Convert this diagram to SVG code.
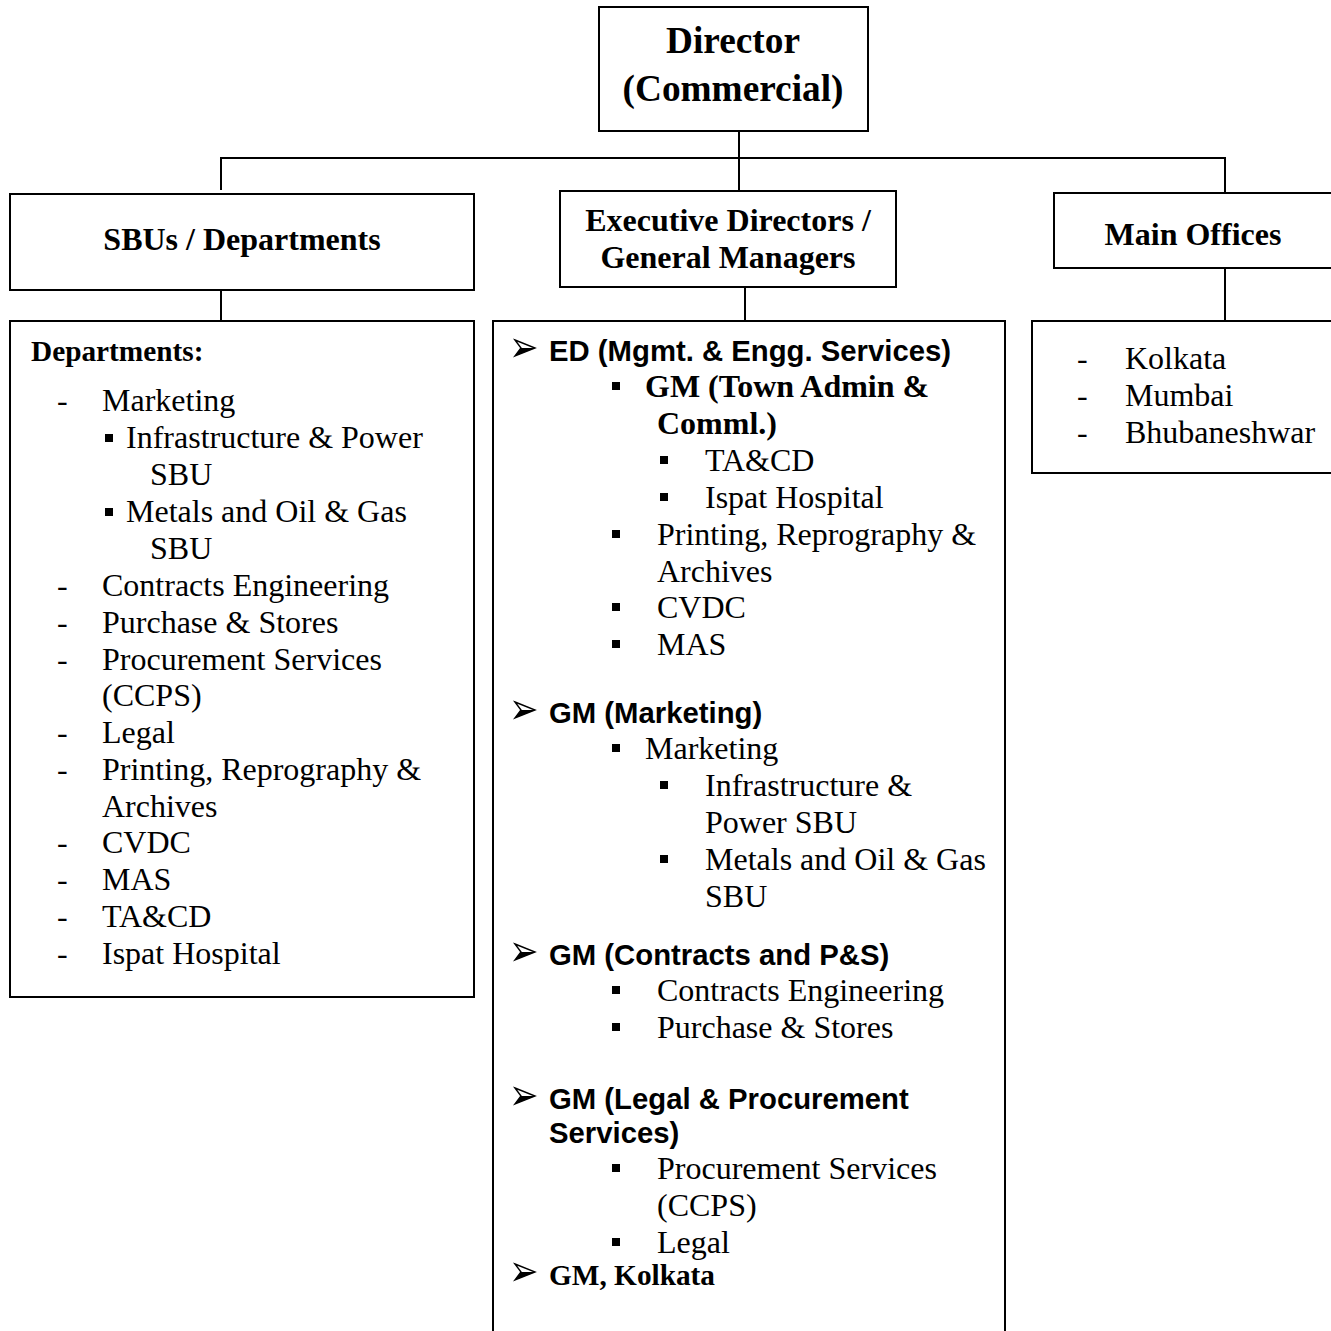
<svg xmlns="http://www.w3.org/2000/svg" width="1331" height="1331" viewBox="0 0 1331 1331">
<style>
.box{fill:#fff;stroke:#000;stroke-width:2}
.ln{fill:none;stroke:#000;stroke-width:2}
.hd{font-family:"Liberation Serif","Times New Roman",serif;font-weight:bold;font-size:32px;fill:#000}
.tr{font-family:"Liberation Serif","Times New Roman",serif;font-size:32px;fill:#000}
.tb{font-family:"Liberation Serif","Times New Roman",serif;font-weight:bold;font-size:32px;fill:#000}
.ab{font-family:"Liberation Sans",Arial,sans-serif;font-weight:bold;font-size:29.3px;fill:#000}
.mid{text-anchor:middle}
.bl{fill:#000}
.ar{fill:#fff;stroke:#000;stroke-width:1.4;stroke-linejoin:miter}
</style>
<defs>
<g id="arrowb"><path class="ar" d="M0,-8 L20,0 L0,8 L6,0 Z"/><path d="M6,0 L20,0 L0,8 Z" fill="#000"/></g>
</defs>
<rect width="1331" height="1331" fill="#fff"/>
<g id="connectors">
<path class="ln" d="M739,131 V191"/>
<path class="ln" d="M221,190 V158 H1225 V193"/>
<path class="ln" d="M221,290 V321"/>
<path class="ln" d="M745,287 V321"/>
<path class="ln" d="M1225,268 V321"/>
</g>
<g id="director">
<rect class="box" x="599" y="7" width="269" height="124"/>
<text class="tb mid" x="733" y="53" style="font-size:37.3px">Director</text>
<text class="tb mid" x="733" y="101" style="font-size:37.3px">(Commercial)</text>
</g>
<g id="sbus">
<rect class="box" x="10" y="194" width="464" height="96"/>
<text class="hd mid" x="242" y="250">SBUs / Departments</text>
</g>
<g id="execs">
<rect class="box" x="560" y="191" width="336" height="96"/>
<text class="hd mid" x="728" y="231">Executive Directors /</text>
<text class="hd mid" x="728" y="268">General Managers</text>
</g>
<g id="mainoffices">
<rect class="box" x="1054" y="193" width="290" height="75"/>
<text class="hd mid" x="1193" y="245">Main Offices</text>
</g>
<g id="departments">
<rect class="box" x="10" y="321" width="464" height="676"/>
<text class="tb" x="31" y="361" style="font-size:29.3px">Departments:</text>
<g class="tr">
<text x="57" y="411">-</text><text x="102" y="411">Marketing</text>
<text x="126" y="448">Infrastructure &amp; Power</text>
<text x="150" y="485">SBU</text>
<text x="126" y="522">Metals and Oil &amp; Gas</text>
<text x="150" y="559">SBU</text>
<text x="57" y="596">-</text><text x="102" y="596">Contracts Engineering</text>
<text x="57" y="633">-</text><text x="102" y="633">Purchase &amp; Stores</text>
<text x="57" y="670">-</text><text x="102" y="670">Procurement Services</text>
<text x="102" y="706">(CCPS)</text>
<text x="57" y="743">-</text><text x="102" y="743">Legal</text>
<text x="57" y="780">-</text><text x="102" y="780">Printing, Reprography &amp;</text>
<text x="102" y="817">Archives</text>
<text x="57" y="853">-</text><text x="102" y="853">CVDC</text>
<text x="57" y="890">-</text><text x="102" y="890">MAS</text>
<text x="57" y="927">-</text><text x="102" y="927">TA&amp;CD</text>
<text x="57" y="964">-</text><text x="102" y="964">Ispat Hospital</text>
</g>
<rect class="bl" x="105" y="434" width="8" height="8"/>
<rect class="bl" x="105" y="508" width="8" height="8"/>
</g>
<g id="edlist">
<path class="box" d="M493,1340 V321 H1005 V1340"/>
<use href="#arrowb" x="515" y="348"/>
<text class="ab" x="549" y="361">ED (Mgmt. &amp; Engg. Services)</text>
<rect class="bl" x="612" y="382" width="8" height="8"/>
<text class="tb" x="645" y="397">GM (Town Admin &amp;</text>
<text class="tb" x="657" y="434">Comml.)</text>
<rect class="bl" x="660" y="456" width="8" height="8"/>
<text class="tr" x="705" y="471">TA&amp;CD</text>
<rect class="bl" x="660" y="493" width="8" height="8"/>
<text class="tr" x="705" y="508">Ispat Hospital</text>
<rect class="bl" x="612" y="530" width="8" height="8"/>
<text class="tr" x="657" y="545">Printing, Reprography &amp;</text>
<text class="tr" x="657" y="582">Archives</text>
<rect class="bl" x="612" y="603" width="8" height="8"/>
<text class="tr" x="657" y="618">CVDC</text>
<rect class="bl" x="612" y="640" width="8" height="8"/>
<text class="tr" x="657" y="655">MAS</text>
<use href="#arrowb" x="515" y="710"/>
<text class="ab" x="549" y="723">GM (Marketing)</text>
<rect class="bl" x="612" y="744" width="8" height="8"/>
<text class="tr" x="645" y="759">Marketing</text>
<rect class="bl" x="660" y="781" width="8" height="8"/>
<text class="tr" x="705" y="796">Infrastructure &amp;</text>
<text class="tr" x="705" y="833">Power SBU</text>
<rect class="bl" x="660" y="855" width="8" height="8"/>
<text class="tr" x="705" y="870">Metals and Oil &amp; Gas</text>
<text class="tr" x="705" y="907">SBU</text>
<use href="#arrowb" x="515" y="952"/>
<text class="ab" x="549" y="965">GM (Contracts and P&amp;S)</text>
<rect class="bl" x="612" y="986" width="8" height="8"/>
<text class="tr" x="657" y="1001">Contracts Engineering</text>
<rect class="bl" x="612" y="1023" width="8" height="8"/>
<text class="tr" x="657" y="1038">Purchase &amp; Stores</text>
<use href="#arrowb" x="515" y="1096"/>
<text class="ab" x="549" y="1109">GM (Legal &amp; Procurement</text>
<text class="ab" x="549" y="1143">Services)</text>
<rect class="bl" x="612" y="1164" width="8" height="8"/>
<text class="tr" x="657" y="1179">Procurement Services</text>
<text class="tr" x="657" y="1216">(CCPS)</text>
<rect class="bl" x="612" y="1238" width="8" height="8"/>
<text class="tr" x="657" y="1253">Legal</text>
<use href="#arrowb" x="515" y="1272"/>
<text class="tb" x="549" y="1285" style="font-size:29.3px">GM, Kolkata</text>
</g>
<g id="officelist">
<rect class="box" x="1032" y="321" width="310" height="152"/>
<g class="tr">
<text x="1077" y="369">-</text><text x="1125" y="369">Kolkata</text>
<text x="1077" y="406">-</text><text x="1125" y="406">Mumbai</text>
<text x="1077" y="443">-</text><text x="1125" y="443">Bhubaneshwar</text>
</g>
</g>
</svg>
